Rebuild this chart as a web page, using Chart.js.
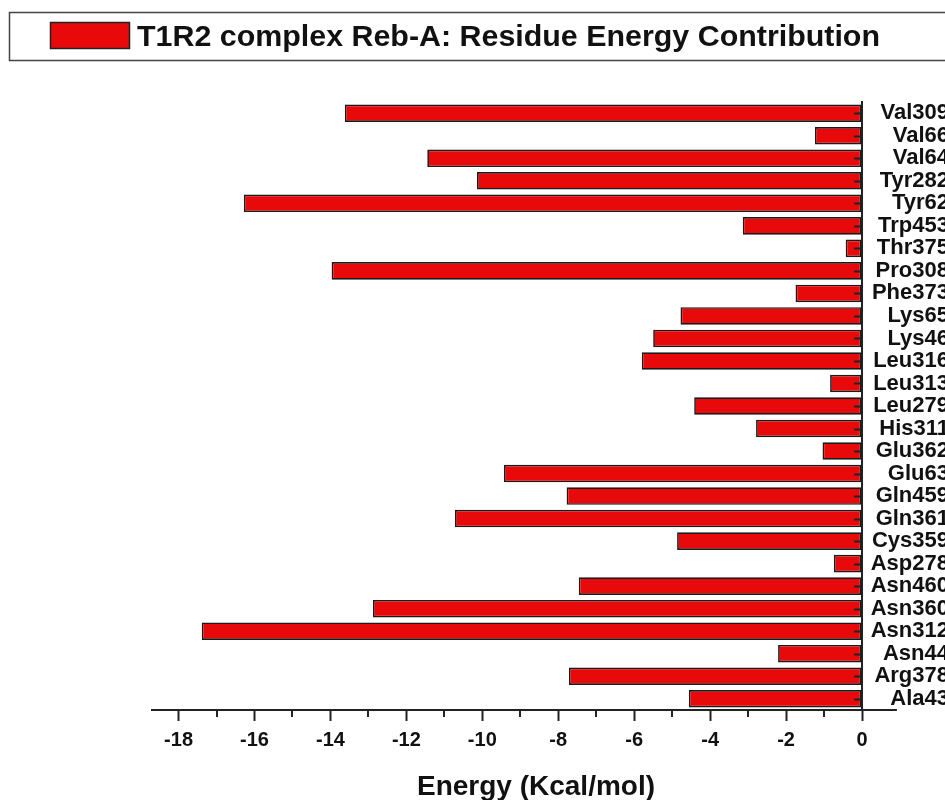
<!DOCTYPE html>
<html>
<head>
<meta charset="utf-8">
<script src="https://cdn.jsdelivr.net/npm/chart.js@4/dist/chart.umd.min.js"></script>
<style>
  html, body { margin: 0; padding: 0; background: #fff; overflow: hidden; }
  #wrap { width: 960px; height: 800px; position: relative; }
</style>
</head>
<body>
<div id="wrap"><canvas id="chart"></canvas></div>
<script>
// Residues listed from top to bottom of the chart
const residues = ['Val309', 'Val66', 'Val64', 'Tyr282', 'Tyr62', 'Trp453', 'Thr375', 'Pro308', 'Phe373',
  'Lys65', 'Lys46', 'Leu316', 'Leu313', 'Leu279', 'His311', 'Glu362', 'Glu63', 'Gln459', 'Gln361',
  'Cys359', 'Asp278', 'Asn460', 'Asn360', 'Asn312', 'Asn44', 'Arg378', 'Ala43'];

// Per-residue energy contribution (kcal/mol)
const energies = [-13.62, -1.24, -11.45, -10.14, -16.28, -3.14, -0.43, -13.97, -1.75,
  -4.78, -5.50, -5.80, -0.84, -4.42, -2.79, -1.04, -9.43, -7.78, -10.72,
  -4.87, -0.74, -7.46, -12.88, -17.39, -2.21, -7.72, -4.56];

const seriesLabel = 'T1R2 complex Reb-A: Residue Energy Contribution';
const axisTitle = 'Energy (Kcal/mol)';
const energyMin = -18.7;
const energyMax = 0;
const axisOvershoot = 0.92;   // the energy axis line runs a little past zero

const RED = '#e80a0a';
const INK = '#111';
const AXIS = '#222';
const FONT = '"Liberation Sans", Arial, sans-serif';

// Boxed legend, inward category ticks, minor energy ticks and the axis title
const decorations = {
  id: 'decorations',
  afterDatasetsDraw(chart) {
    const ctx = chart.ctx;
    const area = chart.chartArea;
    const ys = chart.scales.y;
    ctx.save();
    ctx.strokeStyle = AXIS;
    ctx.lineWidth = 2;
    // y axis line redrawn above the bars
    ctx.beginPath();
    ctx.moveTo(area.right, area.top);
    ctx.lineTo(area.right, area.bottom);
    ctx.stroke();
    // inward category ticks
    ys.ticks.forEach((t, i) => {
      const y = Math.round(ys.getPixelForTick(i)) + 0.5;
      ctx.beginPath();
      ctx.moveTo(area.right - 8, y);
      ctx.lineTo(area.right, y);
      ctx.stroke();
    });
    ctx.restore();
  },
  afterDraw(chart) {
    const ctx = chart.ctx;
    const area = chart.chartArea;
    const xs = chart.scales.x;
    ctx.save();
    // axis line continuing past zero
    ctx.strokeStyle = AXIS;
    ctx.lineWidth = 2;
    ctx.beginPath();
    ctx.moveTo(area.right, area.bottom);
    ctx.lineTo(xs.getPixelForValue(axisOvershoot), area.bottom);
    ctx.stroke();
    // minor ticks at odd values
    for (let v = Math.ceil(energyMin); v < energyMax; v++) {
      if (v % 2 === 0) continue;
      const x = Math.round(xs.getPixelForValue(v));
      ctx.beginPath();
      ctx.moveTo(x, area.bottom);
      ctx.lineTo(x, area.bottom + 7);
      ctx.stroke();
    }
    // axis title
    ctx.fillStyle = INK;
    ctx.font = 'bold 28px ' + FONT;
    ctx.textAlign = 'center';
    ctx.textBaseline = 'alphabetic';
    ctx.fillText(axisTitle, (area.left + area.right) / 2 + 29, 795);

    // legend frame
    ctx.strokeStyle = '#444';
    ctx.lineWidth = 1.5;
    ctx.strokeRect(9.5, 12.5, chart.width + 20, 48);
    // legend swatch
    const ds = chart.data.datasets[0];
    ctx.fillStyle = ds.backgroundColor;
    ctx.fillRect(50, 22, 80, 27);
    ctx.strokeStyle = '#222';
    ctx.lineWidth = 1.5;
    ctx.strokeRect(50.5, 22.5, 79, 26);
    // legend text
    ctx.fillStyle = INK;
    ctx.font = 'bold 30.4px ' + FONT;
    ctx.textAlign = 'left';
    ctx.fillText(ds.label, 137, 46);
    ctx.restore();
  }
};

new Chart(document.getElementById('chart'), {
  type: 'bar',
  data: {
    labels: residues,
    datasets: [{
      label: seriesLabel,
      data: energies,
      backgroundColor: RED,
      borderColor: '#1a1a1a',
      borderWidth: 1.7,
      borderSkipped: false,
      categoryPercentage: 1,
      barPercentage: 0.78
    }]
  },
  options: {
    indexAxis: 'y',
    responsive: true,
    maintainAspectRatio: false,
    animation: false,
    layout: { padding: { left: 152, top: 102, right: 11, bottom: 41 } },
    plugins: {
      legend: { display: false },
      tooltip: { enabled: false }
    },
    scales: {
      x: {
        type: 'linear',
        min: energyMin,
        max: energyMax,
        ticks: {
          stepSize: 2,
          includeBounds: false,
          padding: 7,
          color: INK,
          font: { family: FONT, size: 20, weight: 'bold' }
        },
        grid: {
          drawOnChartArea: false,
          drawTicks: true,
          tickLength: 11,
          tickWidth: 2,
          tickColor: AXIS
        },
        border: { display: true, color: AXIS, width: 2 }
      },
      y: {
        position: 'right',
        ticks: {
          crossAlign: 'far',
          padding: 10,
          autoSkip: false,
          color: INK,
          font: { family: FONT, size: 22, weight: 'bold' }
        },
        grid: { drawOnChartArea: false, drawTicks: false },
        border: { display: true, color: AXIS, width: 2 },
        afterFit(scale) { scale.width = 87; }
      }
    }
  },
  plugins: [decorations]
});
</script>
</body>
</html>
